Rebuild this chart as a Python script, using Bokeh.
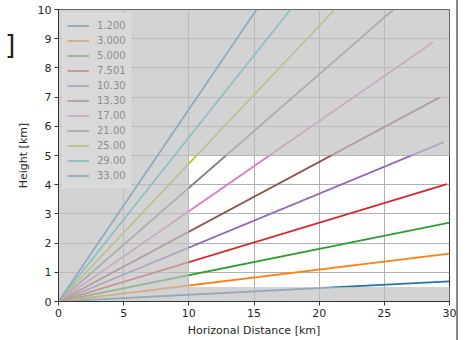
from bokeh.plotting import figure
from bokeh.models import Range1d, Legend, LegendItem, Div, FixedTicker
from bokeh.layouts import row
from bokeh.embed import file_html
from bokeh.resources import INLINE

# Beam elevation angles (degrees) and where each beam trace ends (km)
elevations = ["1.200", "3.000", "5.000", "7.501", "10.30", "13.30",
              "17.00", "21.00", "25.00", "29.00", "33.00"]
end_distance = [30.0, 30.0, 30.0, 29.8, 29.56, 29.25, 28.74, 25.7, 21.2, 17.8, 15.2]
end_height = [0.69, 1.64, 2.70, 4.02, 5.46, 6.99, 8.88, 10.0, 10.0, 10.0, 10.0]

x_ticks = [0, 5, 10, 15, 20, 25, 30]
y_ticks = [0, 1, 2, 3, 4, 5, 6, 7, 8, 9, 10]

# Region of interest left unshaded
roi_x = (10, 30)
roi_y = (0.5, 5)

colors = ["#1f77b4", "#ff7f0e", "#2ca02c", "#d62728", "#9467bd", "#8c564b",
          "#e377c2", "#7f7f7f", "#bcbd22", "#17becf", "#1f77b4"]

SHADE = (192, 192, 192)
SHADE_ALPHA = 0.7


def shaded(hex_color):
    r, g, b = (int(hex_color[i:i + 2], 16) for i in (1, 3, 5))
    mix = [round(c * (1 - SHADE_ALPHA) + s * SHADE_ALPHA) for c, s in zip((r, g, b), SHADE)]
    return "#%02x%02x%02x" % tuple(mix)


FONT = "DejaVu Sans"

p = figure(width=443, height=340, x_range=Range1d(0, 30), y_range=Range1d(0, 10),
           output_backend="svg", toolbar_location=None,
           min_border_left=44, min_border_right=7, min_border_top=9, min_border_bottom=39)
p.background_fill_color = "white"
p.border_fill_color = "white"
p.outline_line_color = "#333333"
p.outline_line_width = 1

for ax in (p.xaxis, p.yaxis):
    ax.major_label_text_font = FONT
    ax.major_label_text_font_size = "11px"
    ax.major_label_text_color = "#262626"
    ax.axis_label_text_font = FONT
    ax.axis_label_text_font_size = "11px"
    ax.axis_label_text_font_style = "normal"
    ax.axis_label_text_color = "#262626"
    ax.major_tick_out = 4
    ax.major_tick_in = 0
    ax.minor_tick_line_color = None
    ax.axis_line_color = "#333333"
    ax.major_tick_line_color = "#333333"
    ax.major_label_standoff = 3

p.xaxis.ticker = FixedTicker(ticks=x_ticks)
p.yaxis.ticker = FixedTicker(ticks=y_ticks)
p.xaxis.axis_label = "Horizonal Distance [km]"
p.yaxis.axis_label = "Height [km]"
p.xaxis.axis_label_standoff = 4
p.yaxis.axis_label_standoff = 5

for g in (p.xgrid, p.ygrid):
    g.grid_line_color = "#b0b0b0"
    g.grid_line_width = 1

# Beam traces from the radar at the origin
for xe, ye, c in zip(end_distance, end_height, colors):
    p.line([0, xe], [0, ye], line_color=c, line_width=1.8)

# Shade everything outside the region of interest
p.multi_polygons(
    xs=[[[[-1, 32, 32, -1], [roi_x[0], roi_x[1] + 1, roi_x[1] + 1, roi_x[0]]]]],
    ys=[[[[-1, -1, 11, 11], [roi_y[0], roi_y[0], roi_y[1], roi_y[1]]]]],
    fill_color="#%02x%02x%02x" % SHADE, fill_alpha=SHADE_ALPHA, line_color=None)

# Legend samples use the shaded tones (single NaN point: nothing drawn in the frame)
nan = float("nan")
items = []
for lab, c in zip(elevations, colors):
    r = p.line([nan], [nan], line_color=shaded(c), line_width=1.8)
    items.append(LegendItem(label=lab, renderers=[r]))

legend = Legend(items=items, location="top_left")
legend.label_text_font = FONT
legend.label_text_font_size = "10px"
legend.label_text_color = "#8e8e8e"
legend.glyph_width = 22
legend.glyph_height = 15
legend.label_height = 15
legend.spacing = 0
legend.padding = 4
legend.margin = 4
legend.label_standoff = 8
legend.background_fill_color = "#d9d9d9"
legend.background_fill_alpha = 1
legend.border_line_color = "#e4e4e4"
p.add_layout(legend)

bracket = Div(
    text='<div style="font-family: DejaVu Sans; font-size: 27px; line-height: 1; '
         'color: #222222; margin: 31px 0 0 5px;">]</div>',
    width=13, height=340, margin=0)
edge = Div(width=2, height=340, margin=0, styles={"background-color": "#8a8a8a"})
pad = Div(width=8, height=340, margin=0)

layout = row(bracket, p, edge, pad, spacing=0)
open("out.html", "w").write(file_html(layout, INLINE))
